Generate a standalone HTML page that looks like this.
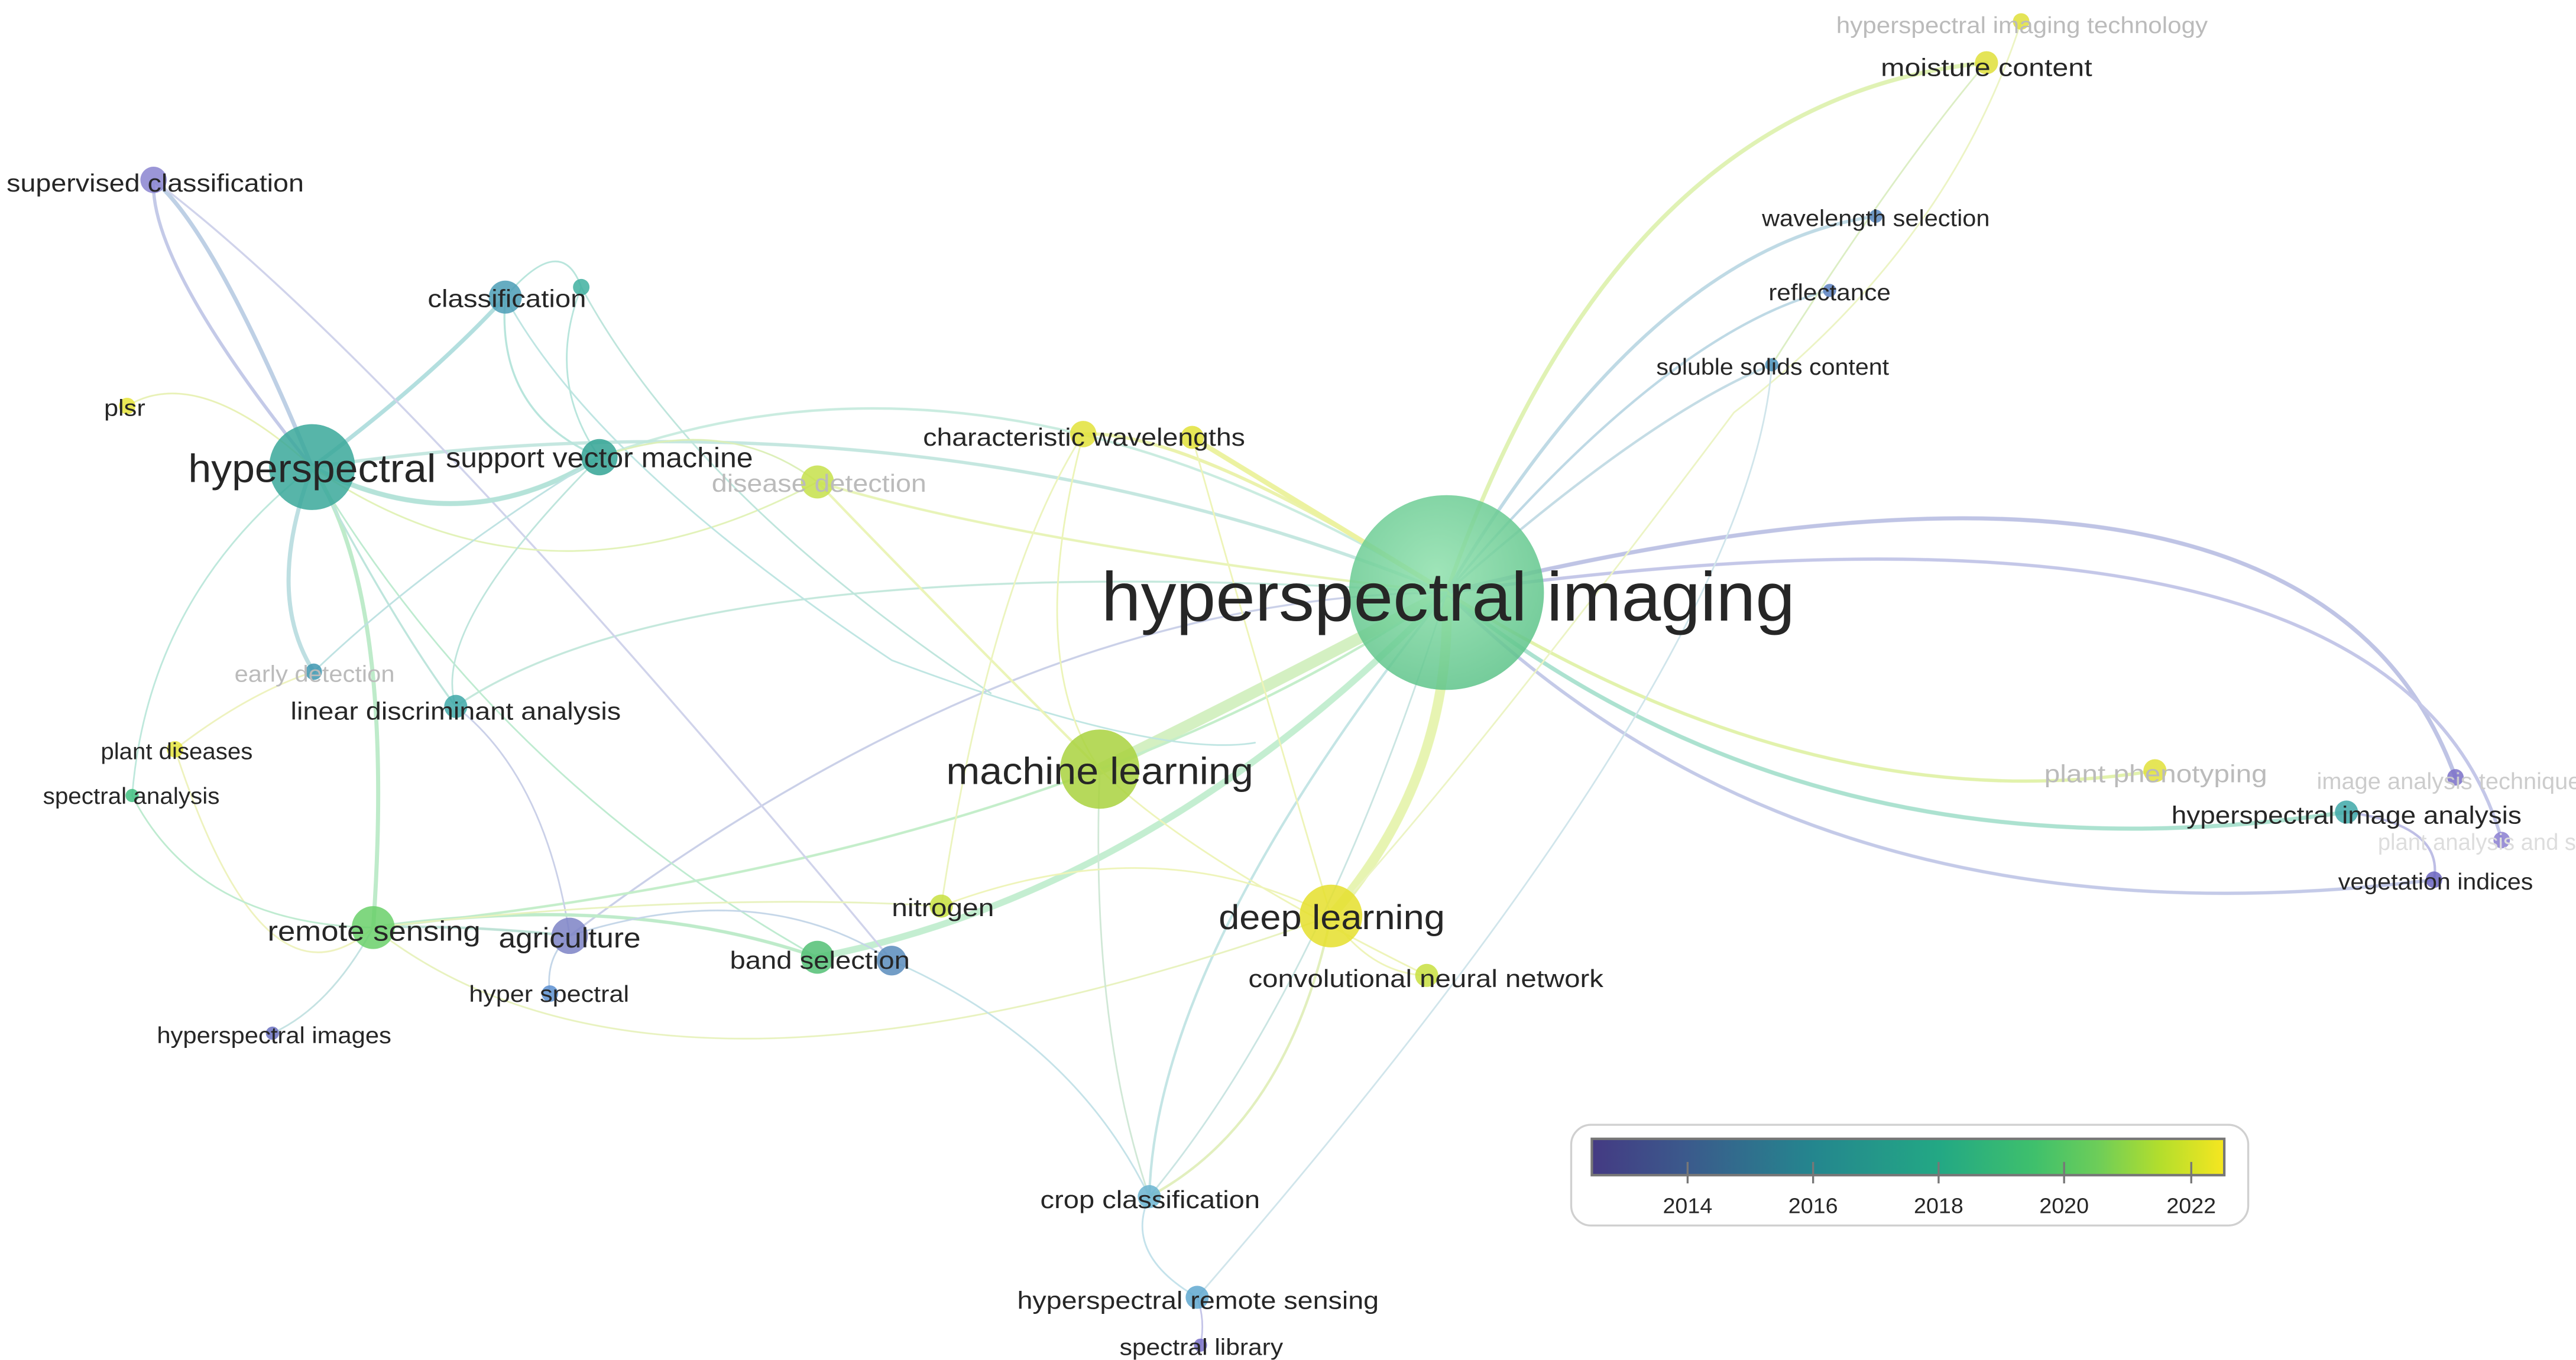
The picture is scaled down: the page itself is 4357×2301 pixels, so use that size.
<!DOCTYPE html>
<html><head><meta charset="utf-8"><style>
html,body{margin:0;padding:0;background:#fff;}
svg{display:block;}
text{font-family:"Liberation Sans",sans-serif;fill:#262626;}
.g{fill:#bbb;}
</style></head><body>
<svg width="4357" height="2301" viewBox="0 0 1560 824" preserveAspectRatio="none" xmlns="http://www.w3.org/2000/svg">
<defs>
<linearGradient id="vir" x1="0" x2="1" y1="0" y2="0">
<stop offset="0" stop-color="#443a83"/><stop offset="0.15" stop-color="#3b5a8c"/><stop offset="0.35" stop-color="#24868e"/><stop offset="0.55" stop-color="#23a884"/><stop offset="0.7" stop-color="#3fc06c"/><stop offset="0.8" stop-color="#6dcd59"/><stop offset="0.9" stop-color="#b4de2c"/><stop offset="1" stop-color="#f6e620"/>
</linearGradient>
<radialGradient id="big" cx="0.45" cy="0.4" r="0.6">
<stop offset="0" stop-color="#8ee0ac"/><stop offset="1" stop-color="#5ec48a"/>
</radialGradient>
</defs>
<g fill="none" stroke-linecap="round" opacity="0.75">
<path d="M876 359 Q760 420 666 466" stroke="#b8e69a" stroke-width="7" opacity="0.8"/>
<path d="M876 359 Q880 470 806 555" stroke="#d8ee80" stroke-width="6" opacity="0.8"/>
<path d="M876 359 Q700 540 495 580" stroke="#90e0a8" stroke-width="4" opacity="0.7"/>
<path d="M876 359 Q560 230 189 283" stroke="#9fd8cc" stroke-width="2" opacity="0.8"/>
<path d="M876 359 Q600 190 363 277" stroke="#a8e0cc" stroke-width="1.5" opacity="0.8"/>
<path d="M876 359 Q980 60 1203 38" stroke="#d0ec90" stroke-width="2.5" opacity="0.9"/>
<path d="M876 359 Q1000 150 1136 131" stroke="#a0c8d8" stroke-width="2" opacity="0.9"/>
<path d="M876 359 Q1010 200 1108 176" stroke="#a8ccdc" stroke-width="1.5"/>
<path d="M876 359 Q1000 250 1073 221" stroke="#b0d0dc" stroke-width="1.5"/>
<path d="M876 359 Q1400 230 1487 471" stroke="#aab0dc" stroke-width="2.5"/>
<path d="M876 359 Q1450 280 1515 509" stroke="#b0b4e0" stroke-width="2"/>
<path d="M876 359 Q1100 580 1474 533" stroke="#b0b8e0" stroke-width="2"/>
<path d="M876 359 Q1100 540 1421 492" stroke="#90d8c0" stroke-width="2.5"/>
<path d="M876 359 Q1100 500 1305 467" stroke="#d8ee90" stroke-width="2"/>
<path d="M876 359 Q720 260 656 263" stroke="#e4ee90" stroke-width="2"/>
<path d="M876 359 Q780 300 722 265" stroke="#e6ee80" stroke-width="3"/>
<path d="M876 359 Q620 330 495 292" stroke="#e0f0a0" stroke-width="1.5"/>
<path d="M876 359 Q700 580 696 725" stroke="#b0dcdc" stroke-width="1.5"/>
<path d="M876 359 Q620 360 345 567" stroke="#b8c0e0" stroke-width="1.2"/>
<path d="M876 359 Q420 330 276 428" stroke="#b0e0d0" stroke-width="1.2"/>
<path d="M876 359 Q640 520 226 562" stroke="#b0e8b8" stroke-width="1.5"/>
<path d="M1203 38 Q1150 100 1073 221" stroke="#d0e8b0" stroke-width="1"/>
<path d="M1224 13 Q1180 150 1050 250 Q900 450 820 540" stroke="#e6f0b0" stroke-width="1"/>
<path d="M1073 221 Q1060 400 725 786" stroke="#c0dce4" stroke-width="1"/>
<path d="M1421 492 Q1480 500 1474 533" stroke="#a8a8dc" stroke-width="1.5"/>
<path d="M189 283 Q260 230 306 180" stroke="#9ad4d4" stroke-width="2.5"/>
<path d="M189 283 Q130 140 93 109" stroke="#a8c0dc" stroke-width="2.5"/>
<path d="M189 283 Q90 160 93 109" stroke="#b0b8e0" stroke-width="2"/>
<path d="M93 109 Q240 220 540 582" stroke="#c0c4e4" stroke-width="1.2"/>
<path d="M189 283 Q280 330 363 277" stroke="#9cdacc" stroke-width="3"/>
<path d="M189 283 Q120 220 77 246" stroke="#e0ec9c" stroke-width="1"/>
<path d="M189 283 Q160 360 190 407" stroke="#a8d4d8" stroke-width="2.5"/>
<path d="M189 283 Q240 360 226 562" stroke="#a8e4b8" stroke-width="2.5"/>
<path d="M189 283 Q240 380 276 428" stroke="#a8dcd0" stroke-width="1.2"/>
<path d="M189 283 Q90 360 80 482" stroke="#a8e0d0" stroke-width="1"/>
<path d="M189 283 Q300 470 495 580" stroke="#a8e4c0" stroke-width="1"/>
<path d="M189 283 Q330 380 495 292" stroke="#d8eea0" stroke-width="1"/>
<path d="M306 180 Q340 140 352 174" stroke="#a0dcd0" stroke-width="1"/>
<path d="M306 180 Q300 250 363 277" stroke="#a0dcd0" stroke-width="1.2"/>
<path d="M306 180 Q360 280 540 400 Q700 460 760 450" stroke="#a8dcd8" stroke-width="1"/>
<path d="M352 174 Q330 230 363 277" stroke="#a0dcd0" stroke-width="1"/>
<path d="M352 174 Q420 300 600 420" stroke="#a8dcd0" stroke-width="1"/>
<path d="M363 277 Q260 340 190 407" stroke="#a8d8d8" stroke-width="1"/>
<path d="M363 277 Q260 380 276 428" stroke="#a8dcd0" stroke-width="1"/>
<path d="M363 277 Q440 250 495 292" stroke="#d0eaa0" stroke-width="1"/>
<path d="M495 292 Q560 360 666 466" stroke="#e4f0a0" stroke-width="1.5"/>
<path d="M656 263 Q600 350 570 549" stroke="#e6f0a8" stroke-width="1"/>
<path d="M722 265 Q760 400 806 555" stroke="#e8f0a0" stroke-width="1"/>
<path d="M656 263 Q620 400 666 466" stroke="#e6f0a0" stroke-width="1"/>
<path d="M106 454 Q150 420 190 407" stroke="#e8eea8" stroke-width="1"/>
<path d="M106 454 Q160 620 226 562" stroke="#e8eea8" stroke-width="1"/>
<path d="M80 482 Q120 560 226 562" stroke="#a8e4c0" stroke-width="1"/>
<path d="M276 428 Q330 470 345 567" stroke="#b8c0e0" stroke-width="1"/>
<path d="M226 562 Q380 540 495 580" stroke="#a8e4b8" stroke-width="2"/>
<path d="M226 562 Q280 560 345 567" stroke="#a8d8c8" stroke-width="1.5"/>
<path d="M226 562 Q200 610 165 626" stroke="#b0d8d8" stroke-width="1"/>
<path d="M226 562 Q400 700 806 555" stroke="#e0eea8" stroke-width="1"/>
<path d="M226 562 Q420 540 570 549" stroke="#e0eea8" stroke-width="1"/>
<path d="M345 567 Q330 580 333 602" stroke="#b0c8e0" stroke-width="1"/>
<path d="M345 567 Q460 530 540 582" stroke="#b0c8e0" stroke-width="1"/>
<path d="M540 582 Q650 630 696 725" stroke="#b0d8e0" stroke-width="1"/>
<path d="M666 466 Q660 620 696 725" stroke="#c0e0c8" stroke-width="1"/>
<path d="M806 555 Q780 680 696 725" stroke="#d8eaa8" stroke-width="1.5"/>
<path d="M806 555 Q830 590 864 591" stroke="#e8f0a0" stroke-width="1"/>
<path d="M696 725 Q680 760 725 786" stroke="#b0d8e4" stroke-width="1"/>
<path d="M725 786 Q730 800 727 815" stroke="#b0b0e0" stroke-width="1"/>
<path d="M666 466 Q720 520 864 591" stroke="#e8f0a0" stroke-width="1"/>
<path d="M570 549 Q700 500 806 555" stroke="#e8f0a0" stroke-width="1"/>
<path d="M696 725 Q800 600 876 359" stroke="#b8dcd8" stroke-width="1"/>
</g>
<g opacity="0.85">
<circle cx="876" cy="359" r="59" fill="url(#big)"/>
<circle cx="189" cy="283" r="26" fill="#39a89a"/>
<circle cx="666" cy="466" r="24" fill="#a9d23e"/>
<circle cx="806" cy="555" r="19" fill="#e5df2c"/>
<circle cx="363" cy="277" r="11" fill="#33a394"/>
<circle cx="306" cy="180" r="10" fill="#4b9eb6"/>
<circle cx="352" cy="174" r="5" fill="#3fb0a0"/>
<circle cx="93" cy="109" r="8" fill="#8a84d0"/>
<circle cx="77" cy="246" r="5" fill="#e6e43a"/>
<circle cx="495" cy="292" r="10" fill="#c6e04a"/>
<circle cx="656" cy="263" r="8" fill="#e2e23a"/>
<circle cx="722" cy="265" r="7" fill="#e2e23a"/>
<circle cx="190" cy="407" r="5" fill="#3e96b0"/>
<circle cx="276" cy="428" r="7" fill="#3ea8a8"/>
<circle cx="106" cy="454" r="5" fill="#e4e43c"/>
<circle cx="80" cy="482" r="4" fill="#40c080"/>
<circle cx="226" cy="562" r="13" fill="#6ad06a"/>
<circle cx="345" cy="567" r="11" fill="#7d83c6"/>
<circle cx="333" cy="602" r="5" fill="#5b8fd0"/>
<circle cx="165" cy="626" r="4" fill="#6a70c0"/>
<circle cx="495" cy="580" r="10" fill="#52c074"/>
<circle cx="540" cy="582" r="9" fill="#5a8cbc"/>
<circle cx="570" cy="549" r="7" fill="#c8e040"/>
<circle cx="864" cy="591" r="7" fill="#c8e040"/>
<circle cx="696" cy="725" r="7" fill="#6ab4d0"/>
<circle cx="725" cy="786" r="7" fill="#60a8d0"/>
<circle cx="727" cy="815" r="4" fill="#7a70c8"/>
<circle cx="1203" cy="38" r="7" fill="#e0e03a"/>
<circle cx="1224" cy="13" r="5" fill="#e0e03a"/>
<circle cx="1136" cy="131" r="4" fill="#5a88c0"/>
<circle cx="1108" cy="176" r="4" fill="#5a80c0"/>
<circle cx="1073" cy="221" r="4" fill="#4a90b8"/>
<circle cx="1305" cy="467" r="7" fill="#e0e03a"/>
<circle cx="1421" cy="492" r="7" fill="#3ea8a8"/>
<circle cx="1487" cy="471" r="5" fill="#7a70c8"/>
<circle cx="1515" cy="509" r="5" fill="#8a7ed0"/>
<circle cx="1474" cy="533" r="5" fill="#6a64c0"/>
</g>
<g>
<text x="667" y="376" font-size="42" textLength="420" lengthAdjust="spacingAndGlyphs">hyperspectral imaging</text>
<text x="114" y="292" font-size="24" textLength="150" lengthAdjust="spacingAndGlyphs">hyperspectral</text>
<text x="573" y="475" font-size="23" textLength="186" lengthAdjust="spacingAndGlyphs">machine learning</text>
<text x="738" y="563" font-size="21" textLength="137" lengthAdjust="spacingAndGlyphs">deep learning</text>
<text x="270" y="283" font-size="17" textLength="186" lengthAdjust="spacingAndGlyphs">support vector machine</text>
<text x="259" y="186" font-size="15" textLength="96" lengthAdjust="spacingAndGlyphs">classification</text>
<text x="4" y="116" font-size="15" textLength="180" lengthAdjust="spacingAndGlyphs">supervised classification</text>
<text x="63" y="252" font-size="14" textLength="25" lengthAdjust="spacingAndGlyphs">plsr</text>
<text class="g" x="431" y="298" font-size="15" textLength="130" lengthAdjust="spacingAndGlyphs">disease detection</text>
<text x="559" y="270" font-size="15" textLength="195" lengthAdjust="spacingAndGlyphs">characteristic wavelengths</text>
<text class="g" x="142" y="413" font-size="14" textLength="97" lengthAdjust="spacingAndGlyphs">early detection</text>
<text x="176" y="436" font-size="15" textLength="200" lengthAdjust="spacingAndGlyphs">linear discriminant analysis</text>
<text x="61" y="460" font-size="14" textLength="92" lengthAdjust="spacingAndGlyphs">plant diseases</text>
<text x="26" y="487" font-size="14" textLength="107" lengthAdjust="spacingAndGlyphs">spectral analysis</text>
<text x="162" y="570" font-size="17" textLength="129" lengthAdjust="spacingAndGlyphs">remote sensing</text>
<text x="302" y="574" font-size="17" textLength="86" lengthAdjust="spacingAndGlyphs">agriculture</text>
<text x="284" y="607" font-size="14" textLength="97" lengthAdjust="spacingAndGlyphs">hyper spectral</text>
<text x="95" y="632" font-size="14" textLength="142" lengthAdjust="spacingAndGlyphs">hyperspectral images</text>
<text x="442" y="587" font-size="15" textLength="109" lengthAdjust="spacingAndGlyphs">band selection</text>
<text x="540" y="555" font-size="15" textLength="62" lengthAdjust="spacingAndGlyphs">nitrogen</text>
<text x="756" y="598" font-size="15" textLength="215" lengthAdjust="spacingAndGlyphs">convolutional neural network</text>
<text x="630" y="732" font-size="15" textLength="133" lengthAdjust="spacingAndGlyphs">crop classification</text>
<text x="616" y="793" font-size="15" textLength="219" lengthAdjust="spacingAndGlyphs">hyperspectral remote sensing</text>
<text x="678" y="821" font-size="14" textLength="99" lengthAdjust="spacingAndGlyphs">spectral library</text>
<text x="1139" y="46" font-size="15" textLength="128" lengthAdjust="spacingAndGlyphs">moisture content</text>
<text class="g" x="1112" y="20" font-size="14" textLength="225" lengthAdjust="spacingAndGlyphs">hyperspectral imaging technology</text>
<text x="1067" y="137" font-size="14" textLength="138" lengthAdjust="spacingAndGlyphs">wavelength selection</text>
<text x="1071" y="182" font-size="14" textLength="74" lengthAdjust="spacingAndGlyphs">reflectance</text>
<text x="1003" y="227" font-size="14" textLength="141" lengthAdjust="spacingAndGlyphs">soluble solids content</text>
<text class="g" x="1238" y="474" font-size="15" textLength="135" lengthAdjust="spacingAndGlyphs">plant phenotyping</text>
<text x="1315" y="499" font-size="15" textLength="212" lengthAdjust="spacingAndGlyphs">hyperspectral image analysis</text>
<text class="g" x="1403" y="478" font-size="14" textLength="160" lengthAdjust="spacingAndGlyphs" style="fill:#ccc">image analysis technique</text>
<text class="g" x="1440" y="515" font-size="14" textLength="120" lengthAdjust="spacingAndGlyphs" style="fill:#ddd">plant analysis and s</text>
<text x="1416" y="539" font-size="14" textLength="118" lengthAdjust="spacingAndGlyphs">vegetation indices</text>
</g>
<rect x="951.5" y="681.5" width="410" height="61" rx="12" fill="#fff" stroke="#d0d0d0" stroke-width="1.2"/>
<rect x="964" y="690" width="383" height="22" fill="url(#vir)" stroke="#777" stroke-width="1.5"/>
<g stroke="#777" stroke-width="1.2">
<line x1="1022" y1="704" x2="1022" y2="717"/><line x1="1098" y1="704" x2="1098" y2="717"/><line x1="1174" y1="704" x2="1174" y2="717"/><line x1="1250" y1="704" x2="1250" y2="717"/><line x1="1327" y1="704" x2="1327" y2="717"/>
</g>
<g font-size="13" text-anchor="middle">
<text x="1022" y="735" textLength="30" lengthAdjust="spacingAndGlyphs">2014</text>
<text x="1098" y="735" textLength="30" lengthAdjust="spacingAndGlyphs">2016</text>
<text x="1174" y="735" textLength="30" lengthAdjust="spacingAndGlyphs">2018</text>
<text x="1250" y="735" textLength="30" lengthAdjust="spacingAndGlyphs">2020</text>
<text x="1327" y="735" textLength="30" lengthAdjust="spacingAndGlyphs">2022</text>
</g>
</svg>
</body></html>
